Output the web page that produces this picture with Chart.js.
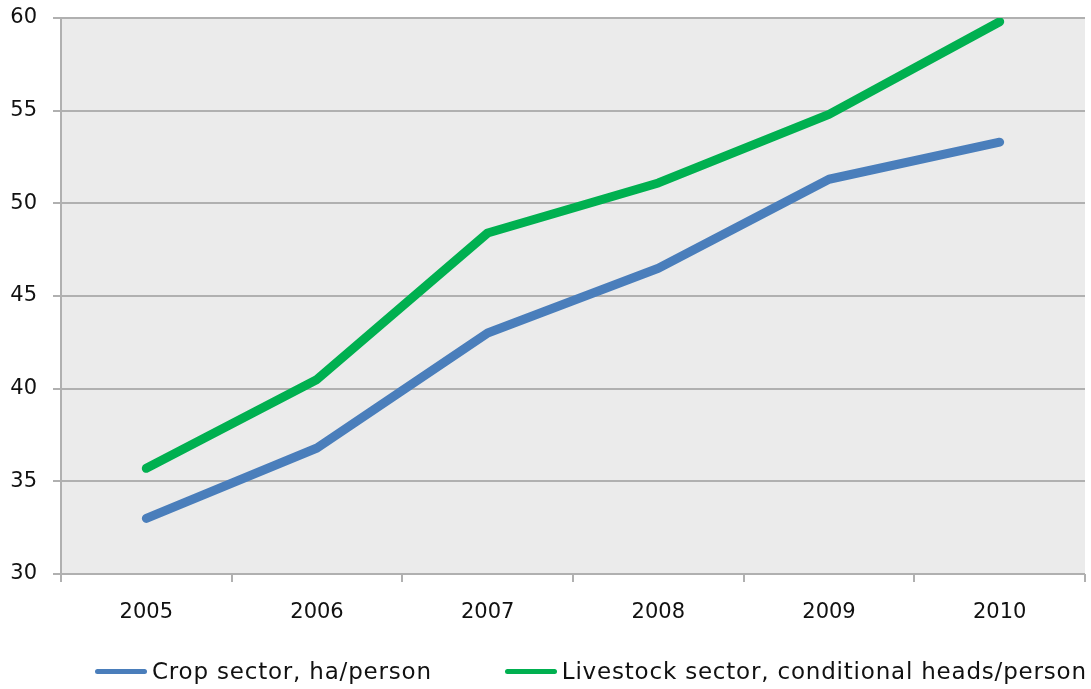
<!DOCTYPE html>
<html>
<head>
<meta charset="utf-8">
<script src="https://cdn.jsdelivr.net/npm/chart.js@4/dist/chart.umd.min.js"></script>
<style>
  html, body { margin: 0; padding: 0; background: #fff; }
  #wrap { position: relative; width: 1091px; height: 689px; overflow: hidden; }
  #legend {
    position: absolute; left: 95px; top: 656px; height: 30px;
    display: flex; align-items: center; gap: 73px;
    font-family: "Century Gothic", "DejaVu Sans", sans-serif; font-size: 23px; color: #111;
    letter-spacing: 0.8px;
  }
  #legend .item { display: flex; align-items: center; white-space: nowrap; }
  #legend .swatch { width: 52px; height: 5px; border-radius: 3px; margin-right: 5px; }
</style>
</head>
<body>
<div id="wrap">
  <canvas id="chart" width="1091" height="689"></canvas>
  <div id="legend"></div>
</div>
<script>
// Datos
const years = ['2005', '2006', '2007', '2008', '2009', '2010'];
const cropSector = [33.0, 36.8, 43.0, 46.5, 51.3, 53.3];
const livestockSector = [35.7, 40.5, 48.4, 51.1, 54.8, 59.8];
const seriesLabels = ['Crop sector, ha/person', 'Livestock sector, conditional heads/person'];
const seriesColors = ['#4A7EBB', '#00B050'];

const FONT = '"Century Gothic", "DejaVu Sans", sans-serif';
const GRID = '#b0b0b0';

/**
 * Pinta el fondo gris del área de trazado.
 */
const plotBackground = {
  id: 'plotBackground',
  beforeDraw(chart) {
    const { ctx, chartArea } = chart;
    ctx.save();
    ctx.fillStyle = '#ebebeb';
    ctx.fillRect(chartArea.left, chartArea.top, chartArea.right - chartArea.left, chartArea.bottom - chartArea.top);
    ctx.restore();
  },
};

function serie(i, values) {
  return {
    label: seriesLabels[i],
    data: values,
    borderColor: seriesColors[i],
    backgroundColor: seriesColors[i],
    borderWidth: 9,
    borderCapStyle: 'round',
    borderJoinStyle: 'round',
    pointRadius: 0,
    tension: 0,
  };
}

const chart = new Chart(document.getElementById('chart').getContext('2d'), {
  type: 'line',
  data: {
    labels: years,
    datasets: [serie(0, cropSector), serie(1, livestockSector)],
  },
  options: {
    responsive: false,
    animation: false,
    layout: { padding: { top: 18, right: 6, left: 0, bottom: 0 } },
    plugins: {
      legend: { display: false },
      tooltip: { enabled: false },
    },
    scales: {
      x: {
        offset: true,
        grid: {
          offset: true,
          drawOnChartArea: false,
          color: GRID,
          lineWidth: 2,
          tickLength: 8,
        },
        border: { display: false },
        ticks: { color: '#111', font: { family: FONT, size: 21 }, padding: 18, maxRotation: 0 },
        afterFit(scale) { scale.height = 115; },
      },
      y: {
        min: 30,
        max: 60,
        ticks: { stepSize: 5, color: '#111', font: { family: FONT, size: 21 }, padding: 16 },
        grid: { color: GRID, lineWidth: 2, tickLength: 8 },
        border: { display: true, color: GRID, width: 2 },
        afterFit(scale) {
          scale.width = 61;
          scale.paddingTop = 0;
          scale.paddingBottom = 0;
        },
      },
    },
  },
  plugins: [plotBackground],
});

// Leyenda HTML construida desde los datasets
const legend = document.getElementById('legend');
chart.data.datasets.forEach((ds) => {
  const item = document.createElement('div');
  item.className = 'item';
  const sw = document.createElement('span');
  sw.className = 'swatch';
  sw.style.background = ds.borderColor;
  const txt = document.createElement('span');
  txt.textContent = ds.label;
  item.appendChild(sw);
  item.appendChild(txt);
  legend.appendChild(item);
});
</script>
</body>
</html>
